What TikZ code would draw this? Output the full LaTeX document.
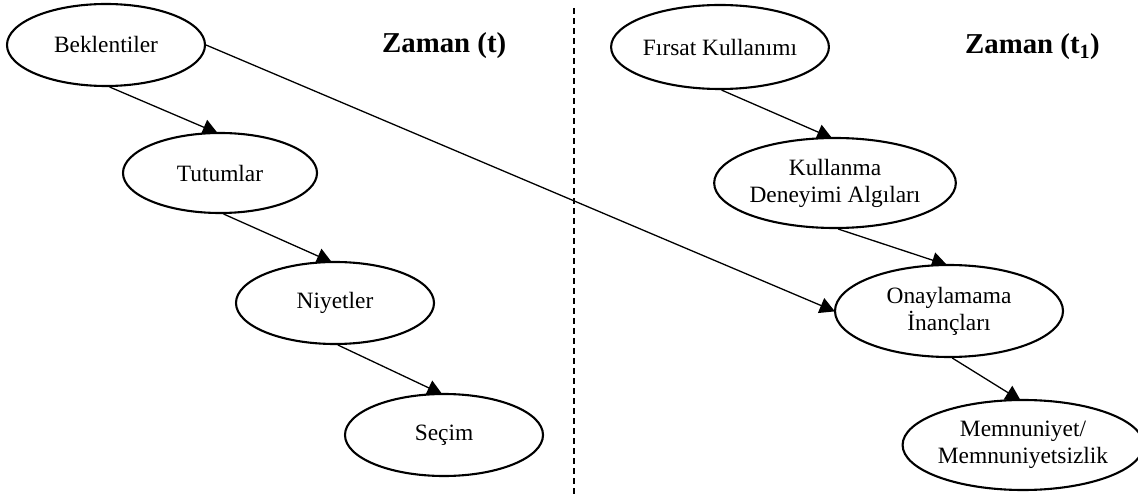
\documentclass[tikz,border=0pt]{standalone}
\usepackage{fontspec}
\setmainfont{Liberation Serif}
\usetikzlibrary{arrows.meta,backgrounds,shapes.geometric}

\begin{document}
\begin{tikzpicture}[x=1pt,y=-1pt,
  oval/.style={ellipse, draw, line width=2.1pt, fill=white, inner sep=0pt,
    align=center, font=\fontsize{23.4}{27}\selectfont},
  link/.style={line width=1.3pt, -{Triangle[length=15pt,width=16pt]},
    shorten >=-3pt},
  heading/.style={font=\fontsize{28.8}{34}\selectfont\bfseries,
    anchor=base west, inner sep=0pt},
  divider/.style={line width=1.3pt, dash pattern=on 6pt off 4pt}]

\useasboundingbox (0,0) rectangle (1138,494);

% time period divider
\coordinate (dtop) at (574,8);
\coordinate (dbot) at (574,494);
\draw[divider] (dtop) -- (dbot);

% period headings
\node[heading] (zt) at (382,53) {Zaman (t)};
\node[heading] (zt1) at (965,54) {Zaman (t\textsubscript{1})};

% time t
\node[oval, minimum width=198pt, minimum height=82pt] (bek) at (106,45) {Beklentiler};
\node[oval, minimum width=194pt, minimum height=80pt] (tut) at (220,173) {Tutumlar};
\node[oval, minimum width=198pt, minimum height=82pt] (niy) at (335,303) {Niyetler};
\node[oval, minimum width=198pt, minimum height=82pt] (sec) at (444,435) {Seçim};

% time t1
\node[oval, minimum width=196pt, minimum height=84pt] (fir) at (720,47) {Fırsat Kullanımı};
\node[oval, minimum width=228pt, minimum height=90pt] (kul) at (835,183) {Kullanma\\Deneyimi Algıları};
\node[oval, minimum width=228pt, minimum height=92pt] (ona) at (949,311) {Onaylamama\\İnançları};
\node[oval, minimum width=226pt, minimum height=90pt] (mem) at (1023,445) {Memnuniyet/\\Memnuniyetsizlik};

% connectors sit behind the white ellipses
\begin{scope}[on background layer]
  \draw[link] (bek.-85) -- (tut.97);
  \draw[link] (tut.-85) -- (niy.98);
  \draw[link] (niy.-86) -- (sec.96);
  \draw[link] (fir.-88) -- (kul.97);
  \draw[link] (kul.-86) -- (ona.96);
  \draw[link] (ona.-86) -- (mem.96);
  \draw[link, shorten >=-1pt] (bek.east) -- (ona.west);
\end{scope}
\end{tikzpicture}
\end{document}
